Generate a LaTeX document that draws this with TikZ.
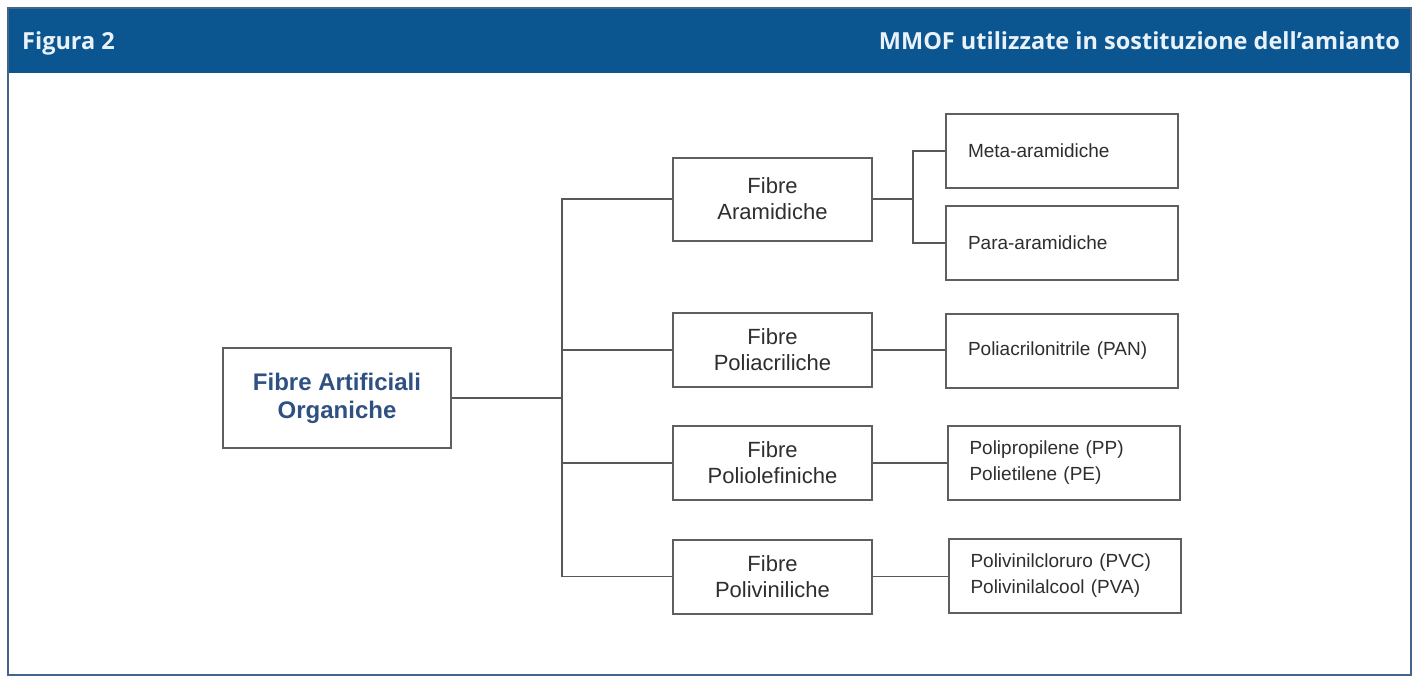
\documentclass[tikz,border=0pt]{standalone}
\usepackage{fontspec}
\setmainfont{Liberation Sans}
\newfontfamily\hdrfont{Open Sans}
\definecolor{hdrblue}{HTML}{0B5590}
\definecolor{framecol}{HTML}{46648A}
\definecolor{boxgray}{HTML}{5F5F5F}
\definecolor{linegray}{HTML}{585858}
\definecolor{txtgray}{HTML}{2E2E2E}
\definecolor{roottxt}{HTML}{2F5181}
\definecolor{hdrtxt}{HTML}{E9F2F9}
\begin{document}
\begin{tikzpicture}[x=1pt,y=-1pt,
  box/.style={draw=boxgray, line width=2pt, fill=white, inner sep=0pt},
  mid/.style={box, minimum width=199pt, minimum height=74pt, align=center, text=txtgray, font=\fontsize{22}{26}\selectfont},
  leaf/.style={box, inner xsep=22pt, text width=188pt, minimum height=74pt, align=left, text=txtgray, font=\fontsize{19}{26}\selectfont},
  conn/.style={draw=linegray, line width=1.8pt},
  hdr/.style={text=hdrtxt, inner sep=0pt, font=\hdrfont\bfseries\fontsize{23.5}{27}\selectfont}]
\useasboundingbox (0,0) rectangle (1415,677);
\fill[white] (0,0) rectangle (1415,677);
% frame and header
\fill[hdrblue] (8,8) rectangle (1411,73);
\draw[framecol, line width=2pt] (8,8) rectangle (1411,675);
\node[hdr, anchor=base west] (fig) at (22,49) {Figura 2};
\node[hdr, anchor=base east] (title) at (1400,49) {MMOF utilizzate in sostituzione dell’amianto};
% nodes
\node[box, minimum width=228pt, minimum height=100pt, align=center, text=roottxt,
      font=\bfseries\fontsize{24}{28}\selectfont] (root) at (337,398) {Fibre Artificiali\\Organiche};
\node[mid, minimum height=83pt] (aram) at (772.5,199) {Fibre\\Aramidiche};
\node[mid] (pacr) at (772.5,350) {Fibre\\Poliacriliche};
\node[mid] (pole) at (772.5,463) {Fibre\\Poliolefiniche};
\node[mid] (pviv) at (772.5,576.5) {Fibre\\Poliviniliche};
\node[leaf] (meta) at (1062,151) {Meta-aramidiche};
\node[leaf] (para) at (1062,243) {Para-aramidiche};
\node[leaf] (pan) at (1062,351) {Poliacrilonitrile (PAN)};
\node[leaf] (pp) at (1063.5,462.5) {Polipropilene (PP)\\Polietilene (PE)};
\node[leaf] (pvc) at (1064.5,576) {Polivinilcloruro (PVC)\\Polivinilalcool (PVA)};
% connectors
\coordinate (j) at (562,398);
\coordinate (k) at (913,199);
\draw[conn] (root.east) -- (j);
\draw[conn, line cap=rect] (aram.west -| j) -- (pviv.west -| j);
\draw[conn] (aram.west -| j) -- (aram.west);
\draw[conn] (pacr.west -| j) -- (pacr.west);
\draw[conn] (pole.west -| j) -- (pole.west);
\draw[conn] (pviv.west -| j) -- (pviv.west);
\draw[conn] (aram.east) -- (k);
\draw[conn, line cap=rect] (meta.west -| k) -- (para.west -| k);
\draw[conn] (meta.west -| k) -- (meta.west);
\draw[conn] (para.west -| k) -- (para.west);
\draw[conn] (pacr.east) -- (pacr.east -| pan.west);
\draw[conn] (pole.east) -- (pole.east -| pp.west);
\draw[conn] (pviv.east) -- (pviv.east -| pvc.west);
\end{tikzpicture}
\end{document}
